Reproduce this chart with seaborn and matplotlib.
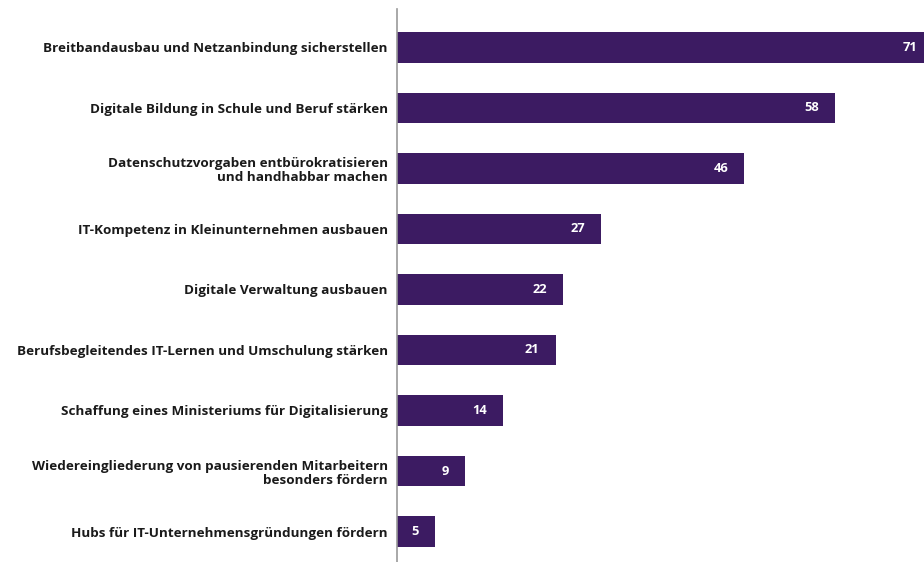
import matplotlib
matplotlib.use("Agg")
import matplotlib.pyplot as plt
import seaborn as sns
import pandas as pd

categories = [
    "Breitbandausbau und Netzanbindung sicherstellen",
    "Digitale Bildung in Schule und Beruf stärken",
    "Datenschutzvorgaben entbürokratisieren\nund handhabbar machen",
    "IT-Kompetenz in Kleinunternehmen ausbauen",
    "Digitale Verwaltung ausbauen",
    "Berufsbegleitendes IT-Lernen und Umschulung stärken",
    "Schaffung eines Ministeriums für Digitalisierung",
    "Wiedereingliederung von pausierenden Mitarbeitern\nbesonders fördern",
    "Hubs für IT-Unternehmensgründungen fördern",
]
values = [71, 58, 46, 27, 22, 21, 14, 9, 5]

bar_color = "#3c1b62"

sns.set_theme(style="white")
plt.rcParams["font.family"] = ["Open Sans", "DejaVu Sans"]

df = pd.DataFrame({"Maßnahme": categories, "Anteil": values})

fig = plt.figure(figsize=(9.24, 5.62), dpi=100)
ax = fig.add_axes([397 / 924, 0.0, 1 - 397 / 924, 1 - 9 / 562])

sns.barplot(data=df, y="Maßnahme", x="Anteil", orient="h", color=bar_color,
            saturation=1, width=0.51, linewidth=0, ax=ax)

ax.set_xlim(0, 69.8)
ax.set_ylim(8.504, -0.636)

for i, v in enumerate(values):
    ax.annotate(str(v), xy=(v, i), xytext=(-11.5, 0), textcoords="offset points",
                ha="right", va="center", color="white", fontsize=9.3,
                fontweight="bold", annotation_clip=False, clip_on=True)

ax.set_xlabel("")
ax.set_ylabel("")
ax.set_xticks([])
ax.tick_params(axis="y", length=0, pad=6.5)
for lbl in ax.get_yticklabels():
    lbl.set_fontweight("bold")
    lbl.set_fontsize(9.7)
    lbl.set_color("#1a1a1a")
    lbl.set_multialignment("right")
    lbl.set_linespacing(1.15)

for side in ["top", "right", "bottom"]:
    ax.spines[side].set_visible(False)
ax.spines["left"].set_color("#999999")
ax.spines["left"].set_linewidth(1.2)

fig.savefig("out.png", dpi=100)
